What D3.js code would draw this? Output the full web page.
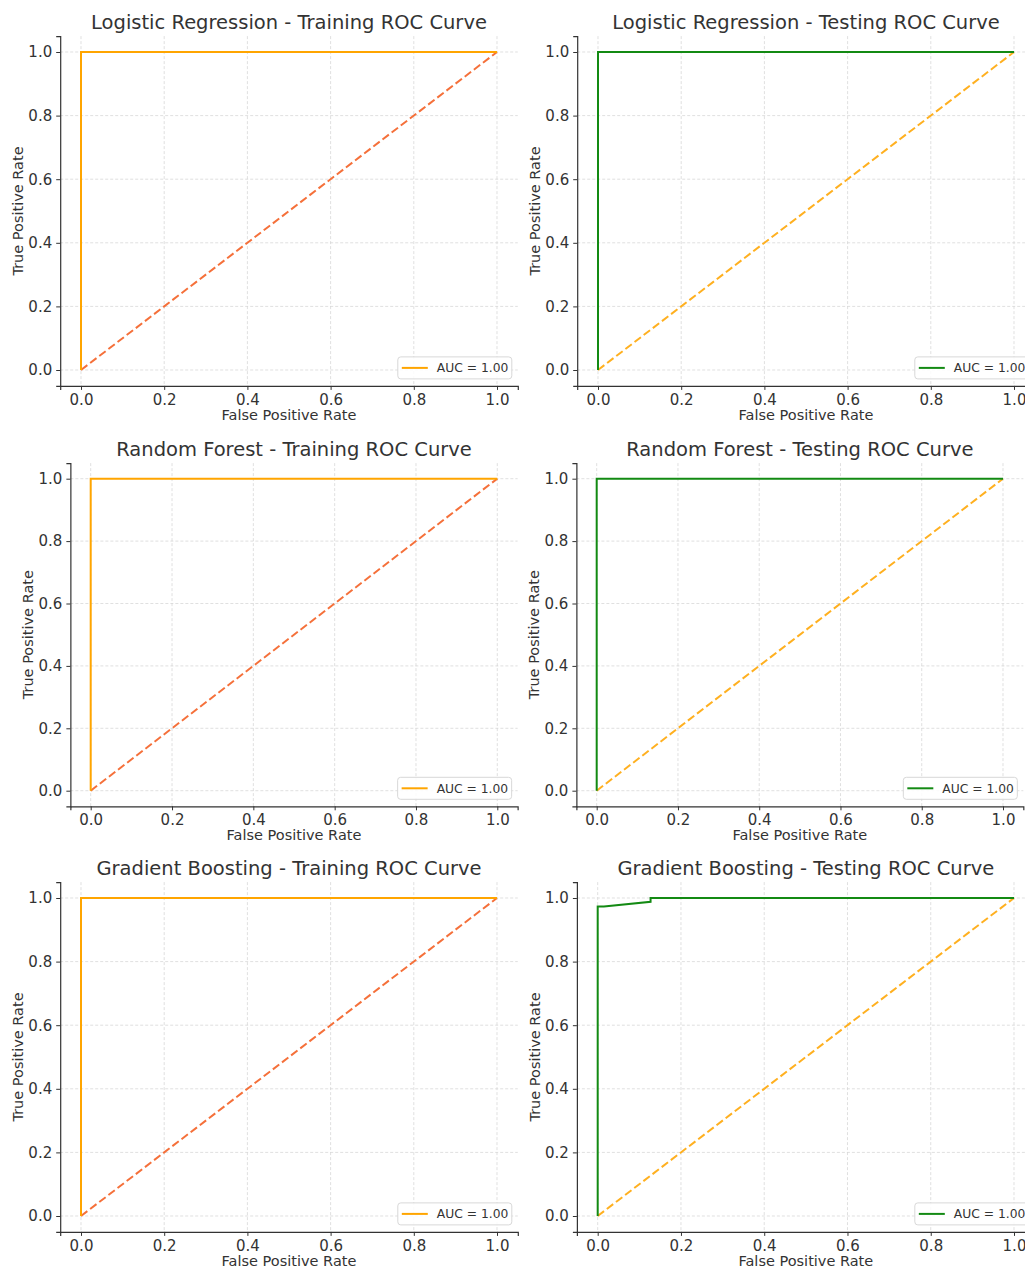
<!DOCTYPE html>
<html>
<head>
<meta charset="utf-8">
<script src="https://cdn.jsdelivr.net/npm/d3@7"></script>
<style>
  body { margin: 0; background: #fff; }
  svg text { font-family: "DejaVu Sans", sans-serif; fill: #333; }
</style>
</head>
<body>
<div id="chart"></div>
<script>
// roc points
const lrTrainFpr = [0, 0, 1];
const lrTrainTpr = [0, 1, 1];
const lrTestFpr = [0, 0, 1];
const lrTestTpr = [0, 1, 1];
const rfTrainFpr = [0, 0, 1];
const rfTrainTpr = [0, 1, 1];
const rfTestFpr = [0, 0, 1];
const rfTestTpr = [0, 1, 1];
const gbTrainFpr = [0, 0, 1];
const gbTrainTpr = [0, 1, 1];
const gbTestFpr = [0, 0, 0.015, 0.127, 0.127, 1];
const gbTestTpr = [0, 0.973, 0.973, 0.988, 1, 1];

const aucLabels = ["AUC = 1.00", "AUC = 1.00", "AUC = 1.00", "AUC = 1.00", "AUC = 1.00", "AUC = 1.00"];
const titles = [
  "Logistic Regression - Training ROC Curve",
  "Logistic Regression - Testing ROC Curve",
  "Random Forest - Training ROC Curve",
  "Random Forest - Testing ROC Curve",
  "Gradient Boosting - Training ROC Curve",
  "Gradient Boosting - Testing ROC Curve"
];
const tickValues = [0, 0.2, 0.4, 0.6, 0.8, 1.0];

// pixel positions of tick 0 and tick 1 on each panel
const panels = [
  {x0: 81, x1: 497, y0: 370, y1: 52, fpr: lrTrainFpr, tpr: lrTrainTpr, train: true},
  {x0: 598, x1: 1014, y0: 370, y1: 52, fpr: lrTestFpr, tpr: lrTestTpr, train: false},
  {x0: 90.7, x1: 497.3, y0: 790.7, y1: 478.7, fpr: rfTrainFpr, tpr: rfTrainTpr, train: true},
  {x0: 596.7, x1: 1003, y0: 790.7, y1: 478.7, fpr: rfTestFpr, tpr: rfTestTpr, train: false},
  {x0: 81, x1: 497, y0: 1216, y1: 898, fpr: gbTrainFpr, tpr: gbTrainTpr, train: true},
  {x0: 597.7, x1: 1014, y0: 1216, y1: 898, fpr: gbTestFpr, tpr: gbTestTpr, train: false}
];

const svg = d3.select("#chart").append("svg")
  .attr("width", 1025)
  .attr("height", 1271);
svg.append("rect").attr("width", 1025).attr("height", 1271).attr("fill", "#fff");

panels.forEach((p, i) => {
  let dx = (p.x1 - p.x0) * 0.05, dy = (p.y0 - p.y1) * 0.05;
  let x = d3.scaleLinear().domain([-0.05, 1.05]).range([p.x0 - dx, p.x1 + dx]);
  let y = d3.scaleLinear().domain([-0.05, 1.05]).range([p.y0 + dy, p.y1 - dy]);
  let left = x.range()[0], right = x.range()[1], bottom = y.range()[0], top = y.range()[1];

  let g = svg.append("g");

  // grid
  g.selectAll(".vg").data(tickValues).join("line")
    .attr("x1", d => x(d)).attr("x2", d => x(d))
    .attr("y1", top).attr("y2", bottom)
    .attr("stroke", "#d2d2d2").attr("stroke-width", 0.7).attr("stroke-dasharray", "3,2");
  g.selectAll(".hg").data(tickValues).join("line")
    .attr("y1", d => y(d)).attr("y2", d => y(d))
    .attr("x1", left).attr("x2", right)
    .attr("stroke", "#d2d2d2").attr("stroke-width", 0.7).attr("stroke-dasharray", "3,2");

  // axes
  let xAxis = d3.axisBottom(x).tickValues(tickValues).tickFormat(d3.format(".1f")).tickSizeOuter(0).tickSize(4).tickPadding(4);
  let yAxis = d3.axisLeft(y).tickValues(tickValues).tickFormat(d3.format(".1f")).tickSizeOuter(0).tickSize(4).tickPadding(4);
  let xa = g.append("g").attr("transform", `translate(0,${bottom})`).call(xAxis);
  let ya = g.append("g").attr("transform", `translate(${left},0)`).call(yAxis);
  [xa, ya].forEach(a => {
    a.select(".domain").attr("stroke", "#333").attr("stroke-width", 1.2);
    a.selectAll(".tick line").attr("stroke", "#333");
    a.selectAll("text").attr("font-size", 15).attr("font-family", "DejaVu Sans").attr("fill", "#333");
  });

  // diagonal
  g.append("line")
    .attr("x1", x(0)).attr("y1", y(0)).attr("x2", x(1)).attr("y2", y(1))
    .attr("stroke", p.train ? "#f5703a" : "#ffb020")
    .attr("stroke-width", 2).attr("stroke-dasharray", "8,3.5");

  // roc curve
  let line = d3.line().x(d => x(d[0])).y(d => y(d[1]));
  let pts = p.fpr.map((f, k) => [f, p.tpr[k]]);
  let curveColor = p.train ? "#ffa500" : "#138a13";
  g.append("path").attr("d", line(pts))
    .attr("fill", "none").attr("stroke", curveColor).attr("stroke-width", 2);

  // title and labels
  g.append("text").attr("x", (left + right) / 2).attr("y", top - 7)
    .attr("text-anchor", "middle").attr("font-size", 19.5).text(titles[i]);
  g.append("text").attr("x", (left + right) / 2).attr("y", bottom + 34)
    .attr("text-anchor", "middle").attr("font-size", 14.5).text("False Positive Rate");
  g.append("text")
    .attr("transform", `translate(${left - 37},${(top + bottom) / 2}) rotate(-90)`)
    .attr("text-anchor", "middle").attr("font-size", 14.5).text("True Positive Rate");

  // legend
  let lw = 114, lh = 22;
  let lx = right - 6 - lw, ly = bottom - 7 - lh;
  let lg = g.append("g").attr("transform", `translate(${lx},${ly})`);
  lg.append("rect").attr("width", lw).attr("height", lh).attr("rx", 3)
    .attr("fill", "#fff").attr("fill-opacity", 0.85).attr("stroke", "#d8d8d8");
  lg.append("line").attr("x1", 4).attr("x2", 30).attr("y1", lh / 2).attr("y2", lh / 2)
    .attr("stroke", curveColor).attr("stroke-width", 2);
  lg.append("text").attr("x", 39).attr("y", lh / 2 + 4.5).attr("font-size", 12.3).text(aucLabels[i]);
});
</script>
</body>
</html>
